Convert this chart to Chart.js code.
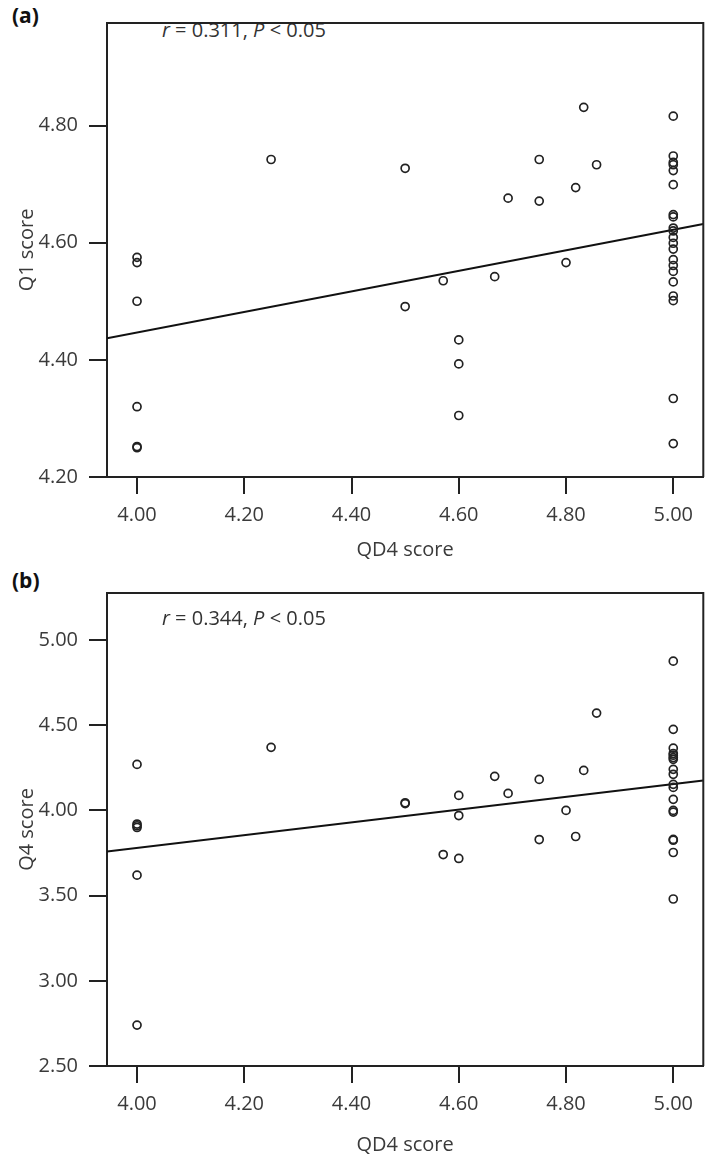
<!DOCTYPE html>
<html>
<head>
<meta charset="utf-8">
<script src="https://cdn.jsdelivr.net/npm/chart.js@4/dist/chart.umd.min.js"></script>
<style>
  body { margin: 0; background: #fff; }
  #wrap { position: relative; width: 709px; height: 1159px; font-family: "Open Sans", sans-serif; }
  canvas { position: absolute; left: 0; }
  .panel { position: absolute; left: 12px; font-weight: bold; font-size: 21px; color: #111; }
  .stat { position: absolute; font-size: 20px; color: #333; white-space: nowrap; }
</style>
</head>
<body>
<div id="wrap">
  <div class="panel" style="top:1px">(a)</div>
  <div class="stat" style="left:162px; top:16px"><i>r</i> = 0.311, <i>P</i> &lt; 0.05</div>
  <canvas id="chartA" width="709" height="565" style="top:0"></canvas>
  <div class="panel" style="top:566px">(b)</div>
  <canvas id="chartB" width="709" height="594" style="top:565px"></canvas>
  <div class="stat" style="left:162px; top:604px"><i>r</i> = 0.344, <i>P</i> &lt; 0.05</div>
</div>
<script>
// x axis (shared)
const xTicks = [4.00, 4.20, 4.40, 4.60, 4.80, 5.00]
const xRange = [3.944, 5.056]

// panel (a): QD4 vs Q1
const qd4A = [4.00, 4.00, 4.00, 4.00, 4.00, 4.00, 4.25, 4.50, 4.50, 4.571, 4.60, 4.60, 4.60, 4.667, 4.692,
              4.75, 4.75, 4.80, 4.818, 4.833, 4.857,
              5.00, 5.00, 5.00, 5.00, 5.00, 5.00, 5.00, 5.00, 5.00, 5.00, 5.00,
              5.00, 5.00, 5.00, 5.00, 5.00, 5.00, 5.00, 5.00, 5.00, 5.00]
const q1A = [4.575, 4.566, 4.50, 4.32, 4.25, 4.252, 4.742, 4.727, 4.491, 4.535, 4.434, 4.393, 4.305, 4.542, 4.676,
             4.742, 4.671, 4.566, 4.694, 4.831, 4.733,
             4.816, 4.748, 4.737, 4.733, 4.723, 4.699, 4.648, 4.644, 4.625, 4.620, 4.609,
             4.599, 4.589, 4.571, 4.561, 4.551, 4.533, 4.509, 4.501, 4.334, 4.257]
const fitAx = [3.944, 5.056]
const fitAy = [4.437, 4.632]
const yTicksA = [4.20, 4.40, 4.60, 4.80]
const yRangeA = [4.20, 4.975]

// panel (b): QD4 vs Q4
const qd4B = [4.00, 4.00, 4.00, 4.00, 4.00, 4.00, 4.25, 4.50, 4.50, 4.571, 4.60, 4.60, 4.60, 4.667, 4.692,
              4.75, 4.75, 4.80, 4.818, 4.833, 4.857,
              5.00, 5.00, 5.00, 5.00, 5.00, 5.00, 5.00, 5.00, 5.00, 5.00, 5.00,
              5.00, 5.00, 5.00, 5.00, 5.00, 5.00, 5.00]
const q4B = [4.27, 3.92, 3.91, 3.90, 3.62, 2.74, 4.37, 4.045, 4.04, 3.741, 4.088, 3.97, 3.718, 4.20, 4.10,
             4.182, 3.829, 4.00, 3.847, 4.235, 4.571,
             4.876, 4.476, 4.365, 4.334, 4.324, 4.31, 4.30, 4.241, 4.212, 4.153, 4.135,
             4.065, 4.00, 3.99, 3.83, 3.825, 3.753, 3.48]
const fitBx = [3.944, 5.056]
const fitBy = [3.759, 4.176]
const yTicksB = [2.50, 3.00, 3.50, 4.00, 4.50, 5.00]
const yRangeB = [2.50, 5.276]

const ink = '#222'
const labelColor = '#3a3a3a'
const fontFamily = '"Open Sans", sans-serif'

const framePlugin = {
    id: 'frame',
    afterDraw(chart) {
        const { ctx, chartArea } = chart
        ctx.save()
        ctx.strokeStyle = ink
        ctx.lineWidth = 2
        ctx.beginPath()
        ctx.moveTo(chartArea.left, chartArea.top)
        ctx.lineTo(chartArea.right, chartArea.top)
        ctx.lineTo(chartArea.right, chartArea.bottom)
        ctx.stroke()
        ctx.restore()
    }
}

function makeChart(canvasId, xs, ys, fitX, fitY, yTicks, yRange, yTitle, opts) {
    const points = xs.map((x, i) => ({ x: x, y: ys[i] }))
    const fit = fitX.map((x, i) => ({ x: x, y: fitY[i] }))

    return new Chart(document.getElementById(canvasId), {
        type: 'scatter',
        data: {
            datasets: [
                {
                    data: points,
                    pointRadius: 4,
                    pointBorderWidth: 1.7,
                    pointBorderColor: ink,
                    pointBackgroundColor: 'rgba(0,0,0,0)'
                },
                {
                    type: 'line',
                    data: fit,
                    borderColor: '#111',
                    borderWidth: 2,
                    pointRadius: 0,
                    fill: false
                }
            ]
        },
        options: {
            responsive: false,
            animation: false,
            events: [],
            layout: {
                padding: { top: opts.top, right: 5, left: 0, bottom: 0 }
            },
            plugins: {
                legend: { display: false },
                tooltip: { enabled: false }
            },
            scales: {
                x: {
                    type: 'linear',
                    min: xRange[0],
                    max: xRange[1],
                    afterBuildTicks: (scale) => { scale.ticks = xTicks.map(v => ({ value: v })) },
                    afterFit: (scale) => { scale.height = opts.xHeight },
                    border: { display: true, color: ink, width: 2 },
                    grid: { drawOnChartArea: false, drawTicks: true, tickLength: 17, tickColor: ink, lineWidth: 2 },
                    ticks: {
                        padding: 9,
                        color: labelColor,
                        font: { family: fontFamily, size: 20 },
                        callback: (v) => v.toFixed(2)
                    },
                    title: {
                        display: true,
                        text: 'QD4 score',
                        color: labelColor,
                        font: { family: fontFamily, size: 20 },
                        padding: { top: 0, bottom: opts.titleBottom }
                    }
                },
                y: {
                    type: 'linear',
                    min: yRange[0],
                    max: yRange[1],
                    afterBuildTicks: (scale) => { scale.ticks = yTicks.map(v => ({ value: v })) },
                    afterFit: (scale) => { scale.width = 107 },
                    border: { display: true, color: ink, width: 2 },
                    grid: { drawOnChartArea: false, drawTicks: true, tickLength: 18, tickColor: ink, lineWidth: 2 },
                    ticks: {
                        padding: 11,
                        color: labelColor,
                        font: { family: fontFamily, size: 20 },
                        callback: (v) => v.toFixed(2)
                    },
                    title: {
                        display: true,
                        text: yTitle,
                        color: labelColor,
                        font: { family: fontFamily, size: 20 },
                        padding: { top: 15, bottom: 0 }
                    }
                }
            }
        },
        plugins: [framePlugin]
    })
}

makeChart('chartA', qd4A, q1A, fitAx, fitAy, yTicksA, yRangeA, 'Q1 score',
    { top: 3, xHeight: 88, titleBottom: 3 })
makeChart('chartB', qd4B, q4B, fitBx, fitBy, yTicksB, yRangeB, 'Q4 score',
    { top: 28, xHeight: 93, titleBottom: 2 })
</script>
</body>
</html>
